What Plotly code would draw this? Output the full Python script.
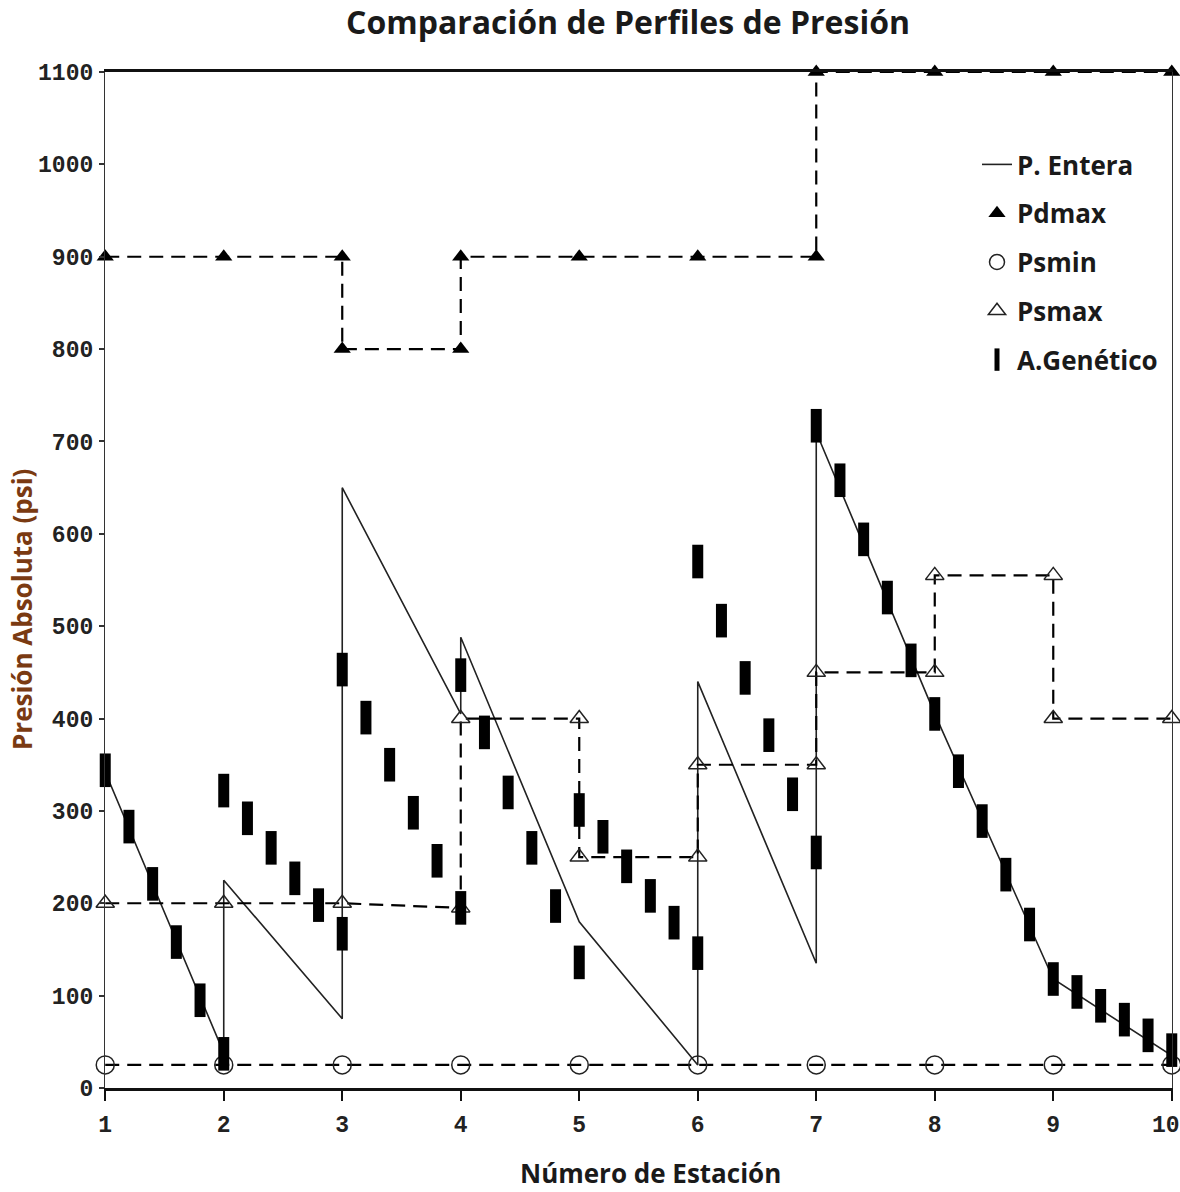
import plotly.graph_objects as go

# ---------------- data ----------------
stations = [1, 2, 3, 4, 5, 6, 7, 8, 9, 10]
y_ticks = [0, 100, 200, 300, 400, 500, 600, 700, 800, 900, 1000, 1100]

# P. Entera (solid profile)
pe_x = [1, 2, 2, 3, 3, 4, 4, 5, 6, 6, 7, 7, 8, 9, 10]
pe_y = [342, 38, 225, 75, 650, 405, 488, 180, 25, 440, 135, 710, 405, 118, 35]

# Pdmax (step, filled triangles)
pdmax_x = [1, 2, 3, 3, 4, 4, 5, 6, 7, 7, 8, 9, 10]
pdmax_y = [900, 900, 900, 800, 800, 900, 900, 900, 900, 1100, 1100, 1100, 1100]

# Psmin (open ellipses)
psmin_x = [1, 2, 3, 4, 5, 6, 7, 8, 9, 10]
psmin_y = [25, 25, 25, 25, 25, 25, 25, 25, 25, 25]

# Psmax (step, open triangles)
psmax_x = [1, 2, 3, 4, 4, 5, 5, 6, 6, 7, 7, 8, 8, 9, 9, 10]
psmax_y = [200, 200, 200, 195, 400, 400, 250, 250, 350, 350, 450, 450, 555, 555, 400, 400]

# A.Genético (filled bars)
ag_x = [1.0, 1.2, 1.4, 1.6, 1.8, 2.0,
        2.0, 2.2, 2.4, 2.6, 2.8, 3.0,
        3.0, 3.2, 3.4, 3.6, 3.8, 4.0,
        4.0, 4.2, 4.4, 4.6, 4.8, 5.0,
        5.0, 5.2, 5.4, 5.6, 5.8, 6.0,
        6.0, 6.2, 6.4, 6.6, 6.8, 7.0,
        7.0, 7.2, 7.4, 7.6, 7.8, 8.0, 8.2, 8.4, 8.6, 8.8,
        9.0, 9.2, 9.4, 9.6, 9.8, 10.0]
ag_y = [344, 283, 221, 158, 95, 37,
        322, 292, 260, 227, 198, 167,
        453, 401, 350, 298, 246, 195,
        447, 385, 320, 260, 197, 136,
        301, 272, 240, 208, 179, 146,
        570, 506, 444, 382, 318, 255,
        717, 658, 594, 531, 463, 405, 343, 289, 231, 177,
        118, 104, 89, 74, 57, 41]

# ---------------- figure ----------------
DASH = "14px,8px"
fig = go.Figure()

fig.add_trace(go.Scatter(x=pe_x, y=pe_y, mode="lines", name="P. Entera",
                         line=dict(color="#222222", width=1.6),
                         legendgroup="a", showlegend=True, cliponaxis=False))
fig.add_trace(go.Scatter(x=pdmax_x, y=pdmax_y, mode="lines+markers", name="Pdmax",
                         line=dict(color="black", width=2.2, dash=DASH),
                         marker=dict(symbol="triangle-up", size=15, color="black"),
                         showlegend=False, cliponaxis=False))
fig.add_trace(go.Scatter(x=psmin_x, y=psmin_y, mode="lines+markers", name="Psmin",
                         line=dict(color="black", width=2.2, dash=DASH),
                         marker=dict(symbol="circle-open", size=18, color="#222222",
                                     line=dict(width=1.5)),
                         showlegend=False, cliponaxis=False))
fig.add_trace(go.Scatter(x=psmax_x, y=psmax_y, mode="lines+markers", name="Psmax",
                         line=dict(color="black", width=2.2, dash=DASH),
                         marker=dict(symbol="triangle-up-open", size=16, color="#222222",
                                     line=dict(width=1.5)),
                         showlegend=False, cliponaxis=False))
fig.add_trace(go.Scatter(x=ag_x, y=ag_y, mode="markers", name="A.Genético",
                         marker=dict(symbol="line-ns", size=24,
                                     line=dict(width=11, color="black")),
                         showlegend=False, cliponaxis=False))

# legend-only entries (markers only, as in the reference legend)
fig.add_trace(go.Scatter(x=[None], y=[None], mode="markers", name="Pdmax",
                         marker=dict(symbol="triangle-up", size=15, color="black"),
                         legendgroup="b"))
fig.add_trace(go.Scatter(x=[None], y=[None], mode="markers", name="Psmin",
                         marker=dict(symbol="circle-open", size=15, color="#222222",
                                     line=dict(width=1.5)),
                         legendgroup="c"))
fig.add_trace(go.Scatter(x=[None], y=[None], mode="markers", name="Psmax",
                         marker=dict(symbol="triangle-up-open", size=15, color="#222222",
                                     line=dict(width=1.5)),
                         legendgroup="d"))
fig.add_trace(go.Scatter(x=[None], y=[None], mode="markers", name="A.Genético",
                         marker=dict(symbol="line-ns", size=16,
                                     line=dict(width=5, color="black")),
                         legendgroup="e"))
# helper trace so the overlay axis (last station label) is drawn
fig.add_trace(go.Scatter(x=[None], y=[None], xaxis="x2", yaxis="y",
                         mode="markers", showlegend=False, hoverinfo="skip"))

tick_font = dict(family="Liberation Mono", size=23, color="#222222", weight="bold")
XR = [0.998, 10.002]

fig.update_layout(
    width=1180, height=1192,
    margin=dict(l=105, r=8, t=72, b=104, autoexpand=False),
    paper_bgcolor="white", plot_bgcolor="white",
    title=dict(text="Comparación de Perfiles de Presión",
               font=dict(family="Open Sans", size=32, color="#1a1a1a", weight="bold"),
               x=628 / 1180, xref="container", xanchor="center",
               y=1 - 23 / 1192, yref="container", yanchor="middle"),
    xaxis=dict(range=XR, tickvals=stations, ticktext=[str(s) for s in stations],
               showgrid=False, zeroline=False,
               showline=True, linecolor="#111111", linewidth=2.5, mirror=True,
               ticks="outside", ticklen=10, tickwidth=2, tickcolor="#111111",
               tickfont=tick_font, ticklabelstandoff=4,
               automargin=False),
    xaxis2=dict(range=XR, overlaying="x", anchor="y", side="bottom",
                tickvals=[stations[-1]], ticktext=[str(stations[-1])],
                showgrid=False, zeroline=False, showline=False, ticks="",
                tickfont=tick_font, ticklabelstandoff=20, ticklabelshift=-6,
                automargin=False),
    yaxis=dict(range=[0, 1100], tickvals=y_ticks, ticktext=[str(v) for v in y_ticks],
               showgrid=False, zeroline=False,
               showline=True, linecolor="#333333", linewidth=1.3, mirror=True,
               ticks="outside", ticklen=5, tickwidth=1.5, tickcolor="#333333",
               tickfont=tick_font, ticklabelstandoff=1,
               automargin=False),
    annotations=[
        dict(text="Presión Absoluta (psi)", textangle=-90,
             xref="paper", yref="paper",
             x=(22 - 105) / 1067, y=(1088 - 610) / 1016,
             xanchor="center", yanchor="middle", showarrow=False,
             font=dict(family="Open Sans", size=26, color="#7a3a12", weight="bold")),
        dict(text="Número de Estación",
             xref="paper", yref="paper",
             x=(650 - 105) / 1067, y=(1088 - 1173) / 1016,
             xanchor="center", yanchor="middle", showarrow=False,
             font=dict(family="Open Sans", size=26, color="#1a1a1a", weight="bold")),
    ],
    legend=dict(x=(977 - 105) / 1067, y=(1088 - 141) / 1016, xanchor="left", yanchor="top",
                bgcolor="rgba(0,0,0,0)", borderwidth=0,
                font=dict(family="Open Sans", size=26, color="#1a1a1a", weight="bold"),
                tracegroupgap=12, itemsizing="trace"),
    showlegend=True,
)

fig.write_html("out.html")
